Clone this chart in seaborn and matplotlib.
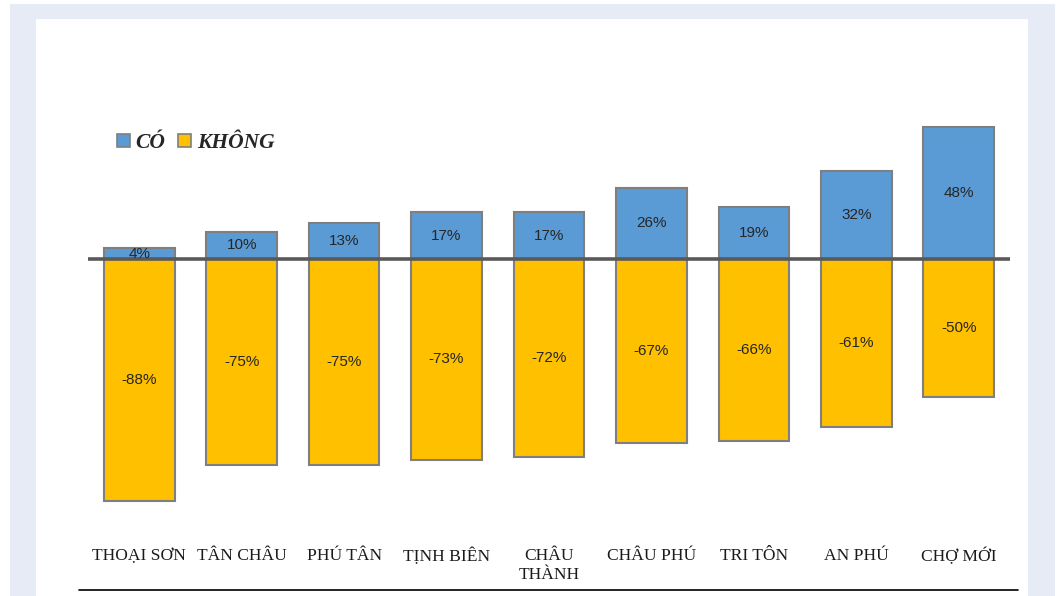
import matplotlib
matplotlib.use("Agg")
import matplotlib.pyplot as plt
from matplotlib.patches import Patch, Rectangle
from matplotlib.lines import Line2D
import seaborn as sns
import pandas as pd

# Districts and survey shares (%)
districts = ["THOẠI SƠN", "TÂN CHÂU", "PHÚ TÂN", "TỊNH BIÊN", "CHÂU\nTHÀNH",
             "CHÂU PHÚ", "TRI TÔN", "AN PHÚ", "CHỢ MỚI"]
co_values = [4, 10, 13, 17, 17, 26, 19, 32, 48]
khong_values = [-88, -75, -75, -73, -72, -67, -66, -61, -50]
series_names = ["CÓ", "KHÔNG"]

blue = "#5B9BD5"
gold = "#FFC000"
edge = "#7F7F7F"

sns.set_theme(style="white")
plt.rcParams["font.family"] = ["Liberation Sans", "DejaVu Sans"]

W, H = 1058, 596
fig = plt.figure(figsize=(W / 100, H / 100), dpi=100)
fig.patch.set_facecolor("white")

# Page frame: lavender border around a white panel
fig.patches.append(Rectangle((10 / W, 0), 1045 / W, 592 / H, transform=fig.transFigure,
                             facecolor="#E7EBF5", edgecolor="none", zorder=-10))
fig.patches.append(Rectangle((36 / W, 0), 992 / W, 577 / H, transform=fig.transFigure,
                             facecolor="white", edgecolor="none", zorder=-9))

ax_top, ax_bot = 100, 520
ax = fig.add_axes([88 / W, (H - ax_bot) / H, 922 / W, (ax_bot - ax_top) / H])
ax.set_facecolor("none")

df = pd.DataFrame({"district": districts, "co": co_values, "khong": khong_values})

sns.barplot(data=df, x="district", y="co", color=blue, width=0.69,
            edgecolor=edge, linewidth=1.5, saturation=1, ax=ax, zorder=2)
sns.barplot(data=df, x="district", y="khong", color=gold, width=0.69,
            edgecolor=edge, linewidth=1.5, saturation=1, ax=ax, zorder=2)

ax.axhline(0, color="#595959", lw=2.6, zorder=3)

px_per = 2.75
ax.set_ylim(-(ax_bot - 259) / px_per, (259 - ax_top) / px_per)
ax.set_xlim(-0.5, 8.5)

for i, (c, k) in enumerate(zip(co_values, khong_values)):
    ax.text(i, c / 2, f"{c}%", ha="center", va="center", fontsize=11,
            color="#262626", zorder=4)
    ax.text(i, k / 2, f"{k}%", ha="center", va="center", fontsize=11,
            color="#262626", zorder=4)

for s in ax.spines.values():
    s.set_visible(False)
ax.set_xlabel("")
ax.set_ylabel("")
ax.set_yticks([])
ax.tick_params(axis="x", length=0, pad=20)
ax.set_xticks(range(len(districts)))
ax.set_xticklabels(districts, fontsize=12.6, color="#1a1a1a",
                   family=["Liberation Serif"], linespacing=1.25, va="top")

handles = [Patch(facecolor=blue, edgecolor=edge, linewidth=1.2),
           Patch(facecolor=gold, edgecolor=edge, linewidth=1.2)]
fig.legend(handles, series_names, loc="center left",
           bbox_to_anchor=(98 / W, (H - 143) / H), ncol=2, frameon=False,
           handlelength=0.6, handleheight=0.6, handletextpad=0.25,
           columnspacing=0.6,
           prop={"family": "Liberation Serif", "weight": "bold", "style": "italic",
                 "size": 15.5})

# rule under the category labels
fig.add_artist(Line2D([79 / W, 1018 / W], [(H - 590) / H] * 2, transform=fig.transFigure,
                      color="black", lw=1.2))

fig.savefig("out.png", dpi=100, facecolor=fig.get_facecolor())
